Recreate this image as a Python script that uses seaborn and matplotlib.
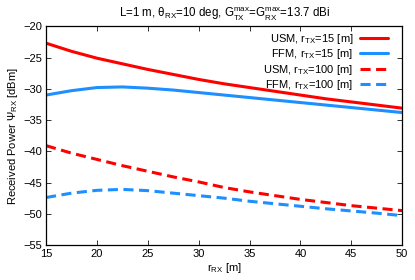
import pandas as pd
import matplotlib
matplotlib.use("Agg")
import matplotlib.pyplot as plt
import seaborn as sns

# distance to receiver, m
r_rx = [15, 17.5, 20, 22.5, 25, 27.5, 30, 32.5, 35, 37.5, 40, 42.5, 45, 47.5, 50]

# received power, dBm
usm_15 = [-22.7, -24.0, -25.1, -26.0, -26.9, -27.7, -28.5, -29.2, -29.8, -30.4, -31.0, -31.6, -32.1, -32.6, -33.1]
ffm_15 = [-31.0, -30.3, -29.8, -29.7, -29.9, -30.2, -30.6, -31.0, -31.4, -31.8, -32.2, -32.6, -33.0, -33.4, -33.8]
usm_100 = [-39.1, -40.3, -41.3, -42.3, -43.2, -44.1, -44.9, -45.8, -46.5, -47.1, -47.7, -48.2, -48.7, -49.1, -49.5]
ffm_100 = [-47.4, -46.7, -46.25, -46.1, -46.3, -46.7, -47.1, -47.5, -48.0, -48.4, -48.8, -49.2, -49.55, -49.9, -50.3]

labels = [r"USM, r$_{TX}$=15 [m]", r"FFM, r$_{TX}$=15 [m]",
          r"USM, r$_{TX}$=100 [m]", r"FFM, r$_{TX}$=100 [m]"]
y_ticks = [-55, -50, -45, -40, -35, -30, -25, -20]
x_ticks = [15, 20, 25, 30, 35, 40, 45, 50]

sns.set_style("ticks")
plt.rcParams["font.family"] = ["Liberation Sans", "DejaVu Sans"]
plt.rcParams["mathtext.fontset"] = "custom"
plt.rcParams["mathtext.rm"] = "Liberation Sans"
plt.rcParams["mathtext.it"] = "Liberation Sans"
plt.rcParams["mathtext.default"] = "regular"
plt.rcParams["text.color"] = "black"
plt.rcParams["axes.labelcolor"] = "black"
plt.rcParams["xtick.color"] = "black"
plt.rcParams["ytick.color"] = "black"

fs = 8

fig = plt.figure(figsize=(4.15, 2.8), dpi=100)
ax = fig.add_axes([0.111, 0.125, 0.858, 0.781])

red = "#ff0000"
blue = "#1e8fff"
series = [usm_15, ffm_15, usm_100, ffm_100]
colors = [red, blue, red, blue]
styles = ["-", "-", "--", "--"]
for vals, lab, c, ls in zip(series, labels, colors, styles):
    sns.lineplot(x=r_rx, y=vals, ax=ax, color=c, lw=2.2, label=lab)
    if ls == "--":
        ax.lines[-1].set_dashes([3.3, 1.8])

ax.set_xlim(15, 50)
ax.set_ylim(-55, -20)
ax.set_xticks(x_ticks)
ax.set_yticks(y_ticks)
ax.tick_params(direction="in", length=3.5, width=0.7, labelsize=fs,
               top=True, right=True, color="#333333", pad=3)
for s in ax.spines.values():
    s.set_linewidth(0.9)
    s.set_color("black")

ax.set_title(r"L=1 m, $\theta_{RX}$=10 deg, G$_{TX}^{max}$=G$_{RX}^{max}$=13.7 dBi",
             fontsize=8.3, pad=6)
ax.set_xlabel(r"r$_{RX}$ [m]", fontsize=fs, labelpad=1)
ax.set_ylabel(r"Received Power $\Psi_{RX}$ [dBm]", fontsize=fs, labelpad=2)

leg = ax.legend(loc="upper right", bbox_to_anchor=(0.975, 1.0), frameon=False,
                markerfirst=False, fontsize=fs, handlelength=2.5, labelspacing=0.12,
                borderaxespad=0.3, handletextpad=0.6, borderpad=0.2)

fig.savefig("out.png", dpi=100)
